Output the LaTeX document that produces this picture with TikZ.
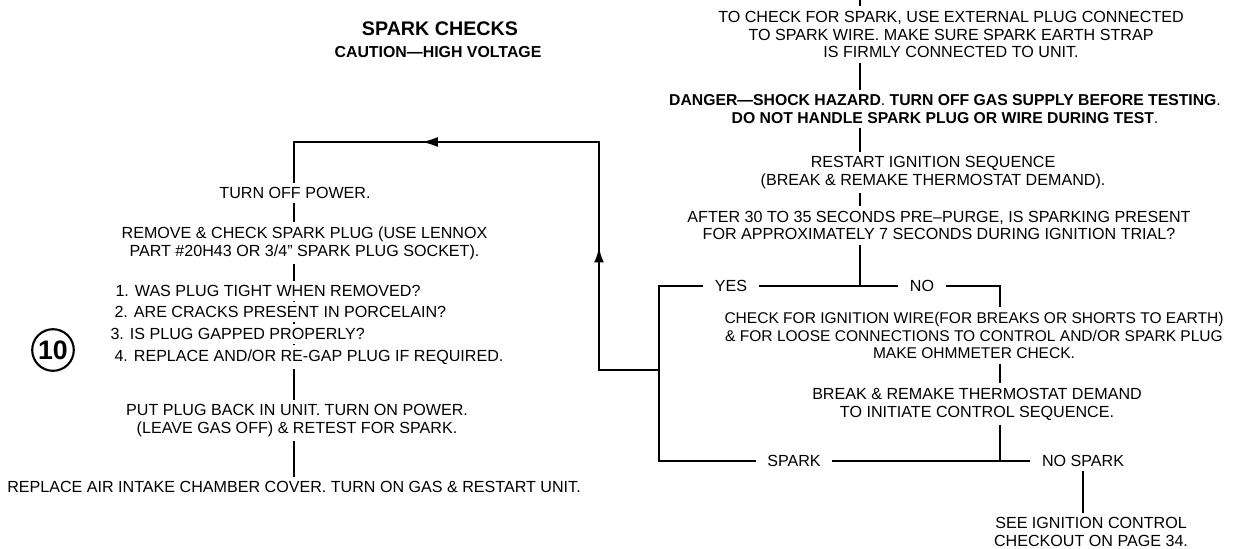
\documentclass[tikz,border=0pt]{standalone}
\usepackage{fontspec}
\setmainfont{Liberation Sans}
\usetikzlibrary{arrows.meta, decorations.markings}

\begin{document}
\begin{tikzpicture}[x=0.025cm, y=-0.025cm,
  wire/.style={line width=1.8pt},
  txt/.style={align=center, inner sep=3pt, font=\fontsize{11.45}{12.7}\selectfont},
  lbl/.style={inner xsep=8pt, inner ysep=3pt, font=\fontsize{11.45}{12.7}\selectfont},
  listitem/.style={anchor=west, fill=white, inner sep=3pt, font=\fontsize{11.45}{12.7}\selectfont},
  looparrows/.style={postaction={decorate}, decoration={markings,
    mark=at position 4.575cm with {\arrow{Latex[length=11pt,width=7pt]}},
    mark=at position 11.65cm with {\arrow{Latex[length=12pt,width=7pt]}}}}]

  \useasboundingbox (0,0) rectangle (1233,548);

  % -- Title --
  \node[font=\fontsize{14}{16}\selectfont\bfseries] (title) at (440,29) {SPARK CHECKS};
  \node[font=\fontsize{11.3}{13}\selectfont\bfseries] (caution) at (438,52) {CAUTION—HIGH VOLTAGE};

  % -- Step number --
  \node[circle, draw, line width=1.5pt, minimum size=1.04cm, inner sep=0pt,
        font=\fontsize{19}{20}\selectfont\bfseries] (stepno) at (53,350) {10};

  % -- Right column --
  \coordinate (spine) at (860,0);
  \node[txt] (plug) at (951,34.5) {TO CHECK FOR SPARK, USE EXTERNAL PLUG CONNECTED\\
    TO SPARK WIRE. MAKE SURE SPARK EARTH STRAP\\IS FIRMLY CONNECTED TO UNIT.};
  \node[txt, font=\fontsize{11.2}{12.7}\selectfont\bfseries] (danger) at (945,109)
    {DANGER—SHOCK HAZARD\textmd{.} TURN OFF GAS SUPPLY BEFORE TESTING\textmd{.}\\
     DO NOT HANDLE SPARK PLUG OR WIRE DURING TEST\textmd{.}};
  \node[txt] (restart) at (933,172.5) {RESTART IGNITION SEQUENCE\\(BREAK \& REMAKE THERMOSTAT DEMAND).};
  \node[txt] (trial) at (939,225.5) {AFTER 30 TO 35 SECONDS PRE–PURGE, IS SPARKING PRESENT\\
    FOR APPROXIMATELY 7 SECONDS DURING IGNITION TRIAL?};

  \node[lbl] (yes) at (731,286) {YES};
  \node[lbl] (no) at (922,286) {NO};
  \coordinate (yescorner) at (659,286);
  \coordinate (nocorner) at (1000,286);

  \node[txt, font=\fontsize{11.05}{12.7}\selectfont] (wire) at (974,335.5) {CHECK FOR IGNITION WIRE(FOR BREAKS OR SHORTS TO EARTH)\\
    \& FOR LOOSE CONNECTIONS TO CONTROL AND/OR SPARK PLUG\\MAKE OHMMETER CHECK.};
  \node[txt] (remake) at (977,404) {BREAK \& REMAKE THERMOSTAT DEMAND\\TO INITIATE CONTROL SEQUENCE.};

  \node[lbl] (spark) at (794,461) {SPARK};
  \node[lbl] (nospark) at (1083,461) {NO SPARK};
  \node[txt] (seepage) at (1091,532) {SEE IGNITION CONTROL\\CHECKOUT ON PAGE 34.};

  % -- Left column --
  \coordinate (lspine) at (294,0);
  \node[txt] (poweroff) at (295,193) {TURN OFF POWER.};
  \node[txt] (remove) at (304.5,243) {REMOVE \& CHECK SPARK PLUG (USE LENNOX\\PART \#20H43 OR 3/4” SPARK PLUG SOCKET).};
  \node[txt] (putback) at (297,420.5) {PUT PLUG BACK IN UNIT. TURN ON POWER.\\(LEAVE GAS OFF) \& RETEST FOR SPARK.};
  \node[txt] (cover) at (294,487) {REPLACE AIR INTAKE CHAMBER COVER. TURN ON GAS \& RESTART UNIT.};

  % line behind the check list
  \draw[wire] (remove.south -| lspine) -- (putback.north -| lspine);
  \node[listitem] (q1) at (111,291) {1. WAS PLUG TIGHT WHEN REMOVED?};
  \node[listitem] (q2) at (110,312) {2. ARE CRACKS PRESENT IN PORCELAIN?};
  \node[listitem] (q3) at (106,334) {3. IS PLUG GAPPED PROPERLY?};
  \node[listitem] (q4) at (110,357) {4. REPLACE AND/OR RE-GAP PLUG IF REQUIRED.};

  % -- Connectors --
  \draw[wire] (spine) -- (plug.north -| spine);
  \draw[wire] (plug.south -| spine) -- (danger.north -| spine);
  \draw[wire] (danger.south -| spine) -- (restart.north -| spine);
  \draw[wire] (restart.south -| spine) -- (trial.north -| spine);
  \draw[wire] (trial.south -| spine) -- (spine |- yes);
  \draw[wire] (yes.east) -- (no.west);
  \draw[wire] (yes.west) -- (yescorner) -- (yescorner |- spark) -- (spark.west);
  \draw[wire] (no.east) -- (nocorner) -- (wire.north -| nocorner);
  \draw[wire] (wire.south -| nocorner) -- (remake.north -| nocorner);
  \draw[wire] (remake.south -| nocorner) -- (nocorner |- spark);
  \draw[wire] (spark.east) -- (nospark.west);
  \draw[wire] (nospark.south) -- (nospark.south |- seepage.north);

  % loop back to the plug checks
  \coordinate (loopjn) at (659,370);
  \coordinate (loopbot) at (599,370);
  \coordinate (looptop) at (599,142);
  \draw[wire, looparrows] (loopjn) -- (loopbot) -- (looptop) -- (looptop -| lspine) -- (poweroff.north -| lspine);

  \draw[wire] (poweroff.south -| lspine) -- (remove.north -| lspine);
  \draw[wire] (putback.south -| lspine) -- (cover.north -| lspine);

\end{tikzpicture}
\end{document}
